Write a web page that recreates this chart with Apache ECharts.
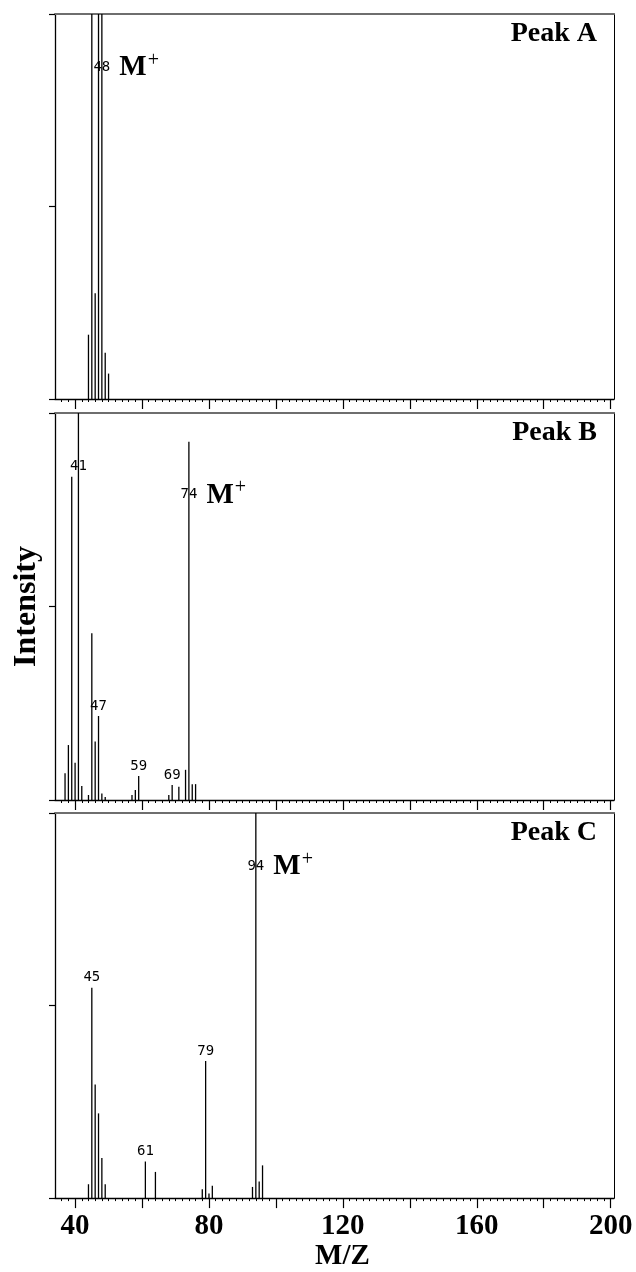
<!DOCTYPE html>
<html><head><meta charset="utf-8">
<script src="https://cdn.jsdelivr.net/npm/echarts@6/dist/echarts.min.js"></script>
<style>html,body{margin:0;padding:0;background:#fff}#c{width:636px;height:1272px}</style>
</head><body><div id="c"></div>
<script>
// ---- data (m/z and relative intensity) ----
const panelNames = ['Peak A', 'Peak B', 'Peak C'];
const mzA = [44, 45, 46, 47, 48, 49, 50];
const intA = [16.7, 100, 27.5, 100, 100, 12.0, 6.6];
const mzB = [37, 38, 39, 40, 41, 42, 44, 45, 46, 47, 48, 49, 57, 58, 59, 68, 69, 71, 73, 74, 75, 76];
const intB = [6.9, 14.2, 83.5, 9.6, 100, 3.6, 1.3, 43.1, 15.1, 21.7, 1.7, 0.8, 1.3, 2.6, 6.2, 1.3, 3.9, 3.4, 7.8, 92.6, 4.1, 4.1];
const mzC = [44, 45, 46, 47, 48, 49, 61, 64, 78, 79, 80, 81, 93, 94, 95, 96];
const intC = [3.6, 54.6, 29.5, 22.0, 10.4, 3.6, 9.5, 6.8, 2.3, 35.6, 1.2, 3.2, 2.9, 100, 4.3, 8.5];
const labeledA = [48];
const labeledB = [41, 47, 59, 69, 74];
const labeledC = [45, 61, 79, 94];
const molIon = [48, 74, 94];
const majorTicks = [40, 60, 80, 100, 120, 140, 160, 180, 200];
const tickLabels = [40, 80, 120, 160, 200];
const yTicks = [0, 50, 100];
const xName = 'M/Z';
const yName = 'Intensity';

// ---- layout / style ----
const X_MIN = 34, X_MAX = 201;
const tops = [14, 413, 813];
const heights = [385, 387, 386];
const SERIF = 'Liberation Serif';
const minorTicks = [];
for (let v = 36; v <= 200; v += 2) minorTicks.push(v);

const panels = [
  { mz: mzA, val: intA, lab: labeledA },
  { mz: mzB, val: intB, lab: labeledB },
  { mz: mzC, val: intC, lab: labeledC }
];

const grid = [], xAxis = [], yAxis = [], series = [], title = [];
panels.forEach((p, i) => {
  grid.push({ left: 55, right: 22, top: tops[i], height: heights[i] });
  title.push({
    text: panelNames[i], right: 39, top: tops[i] + 6, padding: 0,
    textStyle: { fontFamily: SERIF, fontWeight: 'bold', fontSize: 28, color: '#000' }
  });
  const last = i === 2;
  xAxis.push({
    gridIndex: i, type: 'value', min: X_MIN, max: X_MAX, position: 'bottom',
    axisLine: { show: true, onZero: false, lineStyle: { color: '#000', width: 1.3 } },
    axisTick: { show: true, customValues: majorTicks, length: 10, lineStyle: { color: '#000', width: 1.2 } },
    axisLabel: {
      show: last, customValues: tickLabels, margin: 14,
      fontFamily: SERIF, fontWeight: 'bold', fontSize: 29, color: '#000'
    },
    splitLine: { show: false },
    name: last ? xName : '', nameLocation: 'middle', nameGap: 42,
    nameTextStyle: { fontFamily: SERIF, fontWeight: 'bold', fontSize: 29, color: '#000', padding: [0, 0, 0, 16] }
  });
  xAxis.push({
    gridIndex: i, type: 'value', min: X_MIN, max: X_MAX, position: 'bottom',
    axisLine: { show: false, onZero: false },
    axisTick: { show: true, customValues: minorTicks, length: 3, lineStyle: { color: '#000', width: 1 } },
    axisLabel: { show: false }, splitLine: { show: false }
  });
  xAxis.push({
    gridIndex: i, type: 'value', min: X_MIN, max: X_MAX, position: 'top',
    axisLine: { show: true, onZero: false, lineStyle: { color: '#6e6e6e', width: 2 } },
    axisTick: { show: false }, axisLabel: { show: false }, splitLine: { show: false }
  });
  yAxis.push({
    gridIndex: i, type: 'value', min: 0, max: 100, position: 'left',
    axisLine: { show: true, onZero: false, lineStyle: { color: '#000', width: 1.3 } },
    axisTick: { show: true, customValues: yTicks, length: 6, lineStyle: { color: '#000', width: 1.2 } },
    axisLabel: { show: false }, splitLine: { show: false },
    name: i === 1 ? yName : '', nameLocation: 'middle', nameRotate: 90, nameGap: 12,
    nameTextStyle: { fontFamily: SERIF, fontWeight: 'bold', fontSize: 32, color: '#000' }
  });
  yAxis.push({
    gridIndex: i, type: 'value', min: 0, max: 100, position: 'right',
    axisLine: { show: true, onZero: false, lineStyle: { color: '#000', width: 1 } },
    axisTick: { show: false }, axisLabel: { show: false }, splitLine: { show: false }
  });

  const data = p.mz.map((m, k) => {
    const v = p.val[k];
    const item = { value: [m, v] };
    if (p.lab.indexOf(m) >= 0) {
      const tall = v >= 80;
      item.label = {
        show: true, formatter: String(m), position: tall ? 'insideTop' : 'top',
        distance: tall ? 46 : 3, color: '#000', fontFamily: 'DejaVu Sans Mono', fontSize: 14
      };
    }
    return item;
  });
  series.push({
    type: 'bar', xAxisIndex: i * 3, yAxisIndex: i * 2, data: data,
    barWidth: 1.3, itemStyle: { color: '#000' }, silent: true, animation: false
  });
  const ionIdx = p.mz.indexOf(molIon[i]);
  series.push({
    type: 'scatter', xAxisIndex: i * 3, yAxisIndex: i * 2, clip: false,
    data: [[molIon[i], p.val[ionIdx]]], symbolSize: 1, itemStyle: { color: 'rgba(255,255,255,0)' },
    silent: true, animation: false,
    label: {
      show: true, position: 'right', distance: 17, offset: [0, 54], color: '#000', opacity: 1,
      formatter: '{m|M}{p|+}',
      rich: {
        m: { fontFamily: SERIF, fontWeight: 'bold', fontSize: 29, color: '#000' },
        p: { fontFamily: SERIF, fontSize: 20, color: '#000', padding: [0, 0, 15, 1] }
      }
    }
  });
});

const chart = echarts.init(document.getElementById('c'), null, { renderer: 'canvas' });
chart.setOption({ backgroundColor: '#fff', animation: false, title, grid, xAxis, yAxis, series });
</script>
</body></html>
